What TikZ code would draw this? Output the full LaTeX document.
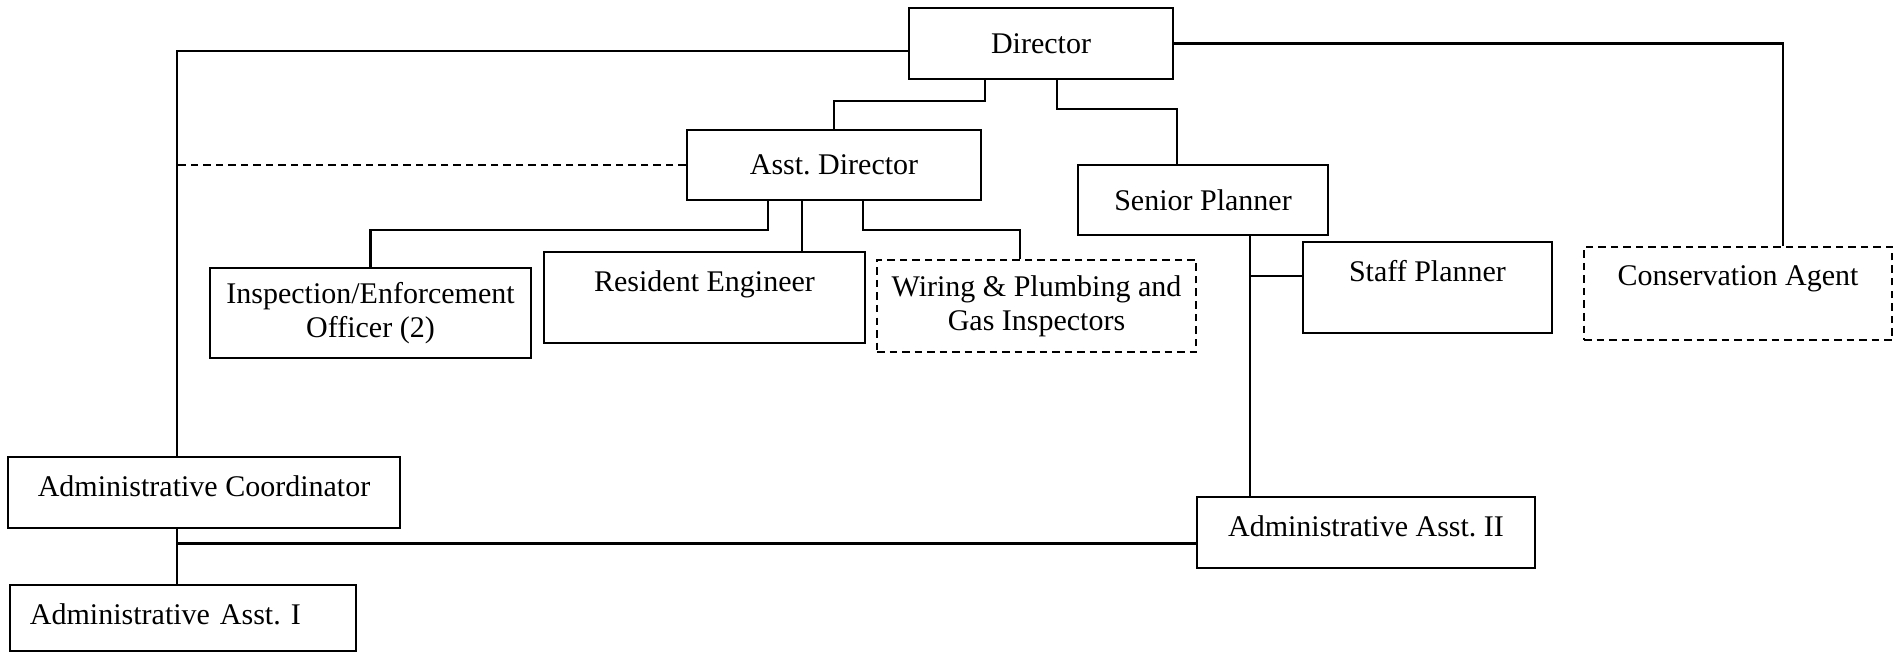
\documentclass[tikz,border=0pt]{standalone}
\usepackage{fontspec}
\setmainfont{Liberation Serif}
\usetikzlibrary{positioning}

\begin{document}
\begin{tikzpicture}[
            x=0.4pt, y=-0.4pt,
            every node/.style={font=\fontsize{12}{13.5}\selectfont\frenchspacing},
            box/.style={
                rectangle,
                draw,
                line width=1pt,
                align=center
            },
            broken/.style={dash pattern=on 3pt off 2pt},
            dashbox/.style={box, broken},
            topbox/.style={box, inner ysep=0pt, text height=15.6pt, text depth=#1},
            link/.style={line width=0.9pt}
        ]
        \useasboundingbox (0,0) rectangle (1904,652);

        % Nodes
        \node[box, minimum width=105.6pt, minimum height=28.4pt] (dir) at (1041,43.5) {Director};
        \node[box, minimum width=117.6pt, minimum height=28pt] (asstdir) at (834,165) {Asst. Director};
        \node[box, minimum width=100pt, minimum height=28pt] (senplan) at (1203,200) {Senior Planner};
        \node[box, minimum width=128.4pt, minimum height=36pt] (insp) at (370.5,313) {Inspection/Enforcement\\Officer (2)};
        \node[topbox=20.8pt, minimum width=128.4pt] (reseng) at (704.5,297.5) {Resident Engineer};
        \node[dashbox, minimum width=127.6pt, minimum height=36.8pt] (wiring) at (1036.5,306) {Wiring \& Plumbing and\\Gas Inspectors};
        \node[topbox=20.8pt, minimum width=99.6pt] (staffplan) at (1427.5,287.5) {Staff Planner};
        \node[topbox=21.6pt, broken, minimum width=123.2pt] (conserv) at (1738,293.5) {Conservation Agent};
        \node[topbox=12.8pt, minimum width=156.8pt] (admcoord) at (204,492.5) {Administrative Coordinator};
        \node[topbox=10.8pt, align=left, inner xsep=8pt, text width=122.4pt] (admasst1) at (183,618) {Administrative Asst. I};
        \node[topbox=12.8pt, minimum width=135.2pt] (admasst2) at (1366,532.5) {Administrative Asst. II};

        % Bus points
        \coordinate (lbus) at (177,0);
        \coordinate (dirjoin) at ([yshift=-3pt]dir.west);
        \coordinate (rebus) at ([xshift=-12.8pt]asstdir.south);
        \coordinate (spbus) at ([xshift=18.8pt]senplan.south);
        \coordinate (spjoin) at ([yshift=4.6pt]staffplan.west);
        \coordinate (a2join) at ([yshift=-4.4pt]admasst2.west);

        % Lines
        \draw[link] (dirjoin) -| (lbus |- admcoord.north);
        \draw[link, broken] (asstdir.west) -- (asstdir.west -| lbus);
        \draw[link] ([xshift=-22.4pt]dir.south) -- ++(0,21) -| (asstdir.north);
        \draw[link] ([xshift=6.4pt]dir.south) -- ++(0,29) -| ([xshift=-10.4pt]senplan.north);
        \draw[link] (dir.east) -| ([xshift=18pt]conserv.north);
        \draw[link] ([xshift=-26.4pt]asstdir.south) -- ++(0,29) -| (insp.north);
        \draw[link] (rebus) -- (rebus |- reseng.north);
        \draw[link] ([xshift=11.6pt]asstdir.south) -- ++(0,29) -| ([xshift=-6.6pt]wiring.north);
        \draw[link] (spbus) -- (spbus |- admasst2.north);
        \draw[link] (spjoin) -- (spjoin -| spbus);
        \draw[link] (lbus |- admcoord.south) -- (lbus |- admasst1.north);
        \draw[link] (a2join) -- (a2join -| lbus);

        \end{tikzpicture}
\end{document}
